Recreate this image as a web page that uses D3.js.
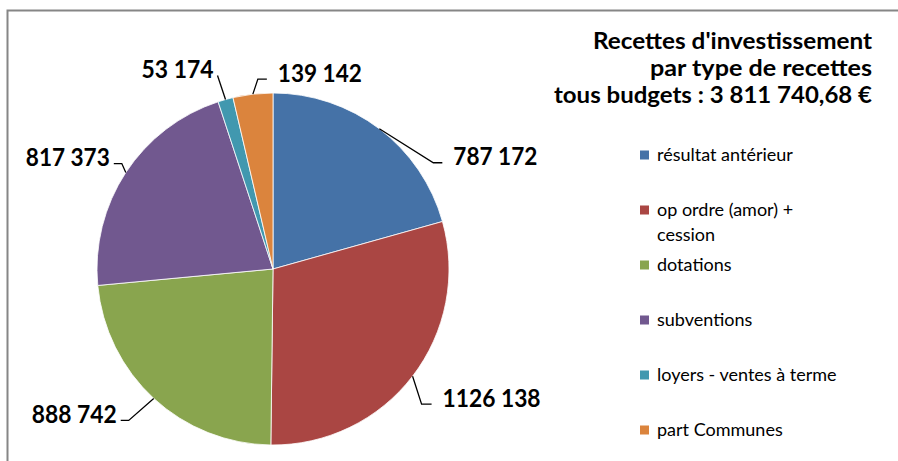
<!DOCTYPE html>
<html>
<head>
<meta charset="utf-8">
<script src="https://cdn.jsdelivr.net/npm/d3@7"></script>
<style>
  body { margin: 0; background: #fff; }
  svg { display: block; }
  text { font-family: Lato, "Open Sans", sans-serif; fill: #000; }
</style>
</head>
<body>
<div id="chart"></div>
<script>
// chart data
const categories = ["résultat antérieur", "op ordre (amor) + cession", "dotations", "subventions", "loyers - ventes à terme", "part Communes"];
const values = [787172, 1126138, 888742, 817373, 53174, 139142];
const valueLabels = ["787 172", "1126 138", "888 742", "817 373", "53 174", "139 142"];
const titleLines = ["Recettes d'investissement", "par type de recettes", "tous budgets : 3 811 740,68 €"];
const legendLines = [["résultat antérieur"], ["op ordre (amor) +", "cession"], ["dotations"], ["subventions"], ["loyers - ventes à terme"], ["part Communes"]];

const colors = ["#4572A7", "#AA4643", "#89A54E", "#71588F", "#4198AF", "#DB843D"];

const W = 898, H = 461;
const cx = 273, cy = 269, R = 176;

// leader line layout: elbow offset from slice edge, horizontal tail, label width
const leaders = [
  { dx: 54, dy: 34, tail: 9, w: 84 },
  { dx: 9, dy: 28, tail: 10, w: 98 },
  { dx: -25, dy: 22, tail: -8, w: 85 },
  { dx: -4, dy: -9, tail: -8, w: 84 },
  { dx: -8, dy: -24, tail: 0, w: 72 },
  { dx: 5, dy: -15, tail: 9, w: 84 }
];

const svg = d3.select("#chart").append("svg")
  .attr("width", W)
  .attr("height", H);

// chart frame (right and bottom edges fall outside the view)
svg.append("rect")
  .attr("x", 7.5).attr("y", 10.5)
  .attr("width", W + 20).attr("height", H + 20)
  .attr("fill", "#fff")
  .attr("stroke", "#868686")
  .attr("stroke-width", 2);

const pie = d3.pie().sort(null).value(d => d)(values);
const arc = d3.arc().innerRadius(0).outerRadius(R);

const g = svg.append("g").attr("transform", `translate(${cx},${cy})`);

g.selectAll("path")
  .data(pie)
  .join("path")
  .attr("d", arc)
  .attr("fill", (d, i) => colors[i])
  .attr("stroke", "#fff")
  .attr("stroke-width", 0.8);

// data labels with leader lines
pie.forEach((d, i) => {
  const a = (d.startAngle + d.endAngle) / 2;
  const x0 = R * Math.sin(a), y0 = -R * Math.cos(a);
  const L = leaders[i];
  const x1 = x0 + L.dx, y1 = y0 + L.dy;
  const x2 = x1 + L.tail;
  g.append("polyline")
    .attr("points", [[x0, y0], [x1, y1], [x2, y1]].map(p => p.join(",")).join(" "))
    .attr("fill", "none")
    .attr("stroke", "#000")
    .attr("stroke-width", 1.3);
  const right = (L.tail > 0) || (L.tail === 0 && L.dx > 0);
  g.append("text")
    .attr("x", right ? x2 + 11 : x2 - 4)
    .attr("y", y1 - 6)
    .attr("dy", "0.36em")
    .attr("text-anchor", right ? "start" : "end")
    .attr("font-size", 24)
    .attr("font-weight", "bold")
    .attr("textLength", L.w)
    .attr("lengthAdjust", "spacingAndGlyphs")
    .text(valueLabels[i]);
});

// title
const titleWidths = [279, 222, 318];
svg.append("g").selectAll("text")
  .data(titleLines)
  .join("text")
  .attr("x", 872)
  .attr("y", (d, i) => 49 + i * 27)
  .attr("text-anchor", "end")
  .attr("font-size", 22)
  .attr("font-weight", "bold")
  .attr("textLength", (d, i) => titleWidths[i])
  .attr("lengthAdjust", "spacingAndGlyphs")
  .text(d => d);

// legend
const legendY = [155, 210, 265, 320, 375, 430];
const legend = svg.append("g");
categories.forEach((c, i) => {
  const row = legend.append("g").attr("transform", `translate(640,${legendY[i]})`);
  row.append("rect")
    .attr("x", 0).attr("y", -4.5)
    .attr("width", 9).attr("height", 9)
    .attr("fill", colors[i]);
  legendLines[i].forEach((t, j) => {
    row.append("text")
      .attr("x", 17)
      .attr("y", j * 25)
      .attr("dy", "0.35em")
      .attr("font-size", 18)
      .attr("fill", "#222")
      .text(t);
  });
});
</script>
</body>
</html>
